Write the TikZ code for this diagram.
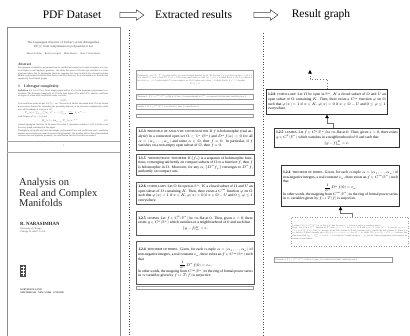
\documentclass[tikz,border=0pt]{standalone}
\usepackage{amsmath}
\usepackage{fontspec}
\usepackage{unicode-math}
\setmainfont{Liberation Serif}
\setmathfont{Latin Modern Math}
\usetikzlibrary{arrows.meta,shapes.arrows}
\definecolor{hl}{HTML}{5CC85C}
\newcommand{\pgfont}{\fontsize{2.3}{2.7}\selectfont}
\newcommand{\rawfont}{\fontsize{2.3}{2.75}\selectfont}
\newcommand{\boxfont}{\fontsize{3.7}{4.6}\selectfont}
\newcommand{\thmcap}[1]{{\fontsize{3.1}{4.6}\selectfont\MakeUppercase{#1}}}
\newcommand{\corotext}{\textbf{1.2.6}\enspace\thmcap{Corollary.} Let $\Omega$ be open in $\mathbb{R}^n$, $K$ a closed subset of $\Omega$ and $U$ an open subset of $\Omega$ containing $K$. Then, there exists a $C^\infty$ function $\varphi$ on $\Omega$ such that $\varphi(x)=1$ if $x\in K$, $\varphi(x)=0$ if $x\in\Omega-U$ and $0\le\varphi\le1$ everywhere.}
\newcommand{\lemtext}{\textbf{1.2.5}\enspace\thmcap{Lemma.} Let $f\in C^k(\mathbb{R}^n)$ be $m$-flat at $0$. Then, given $\varepsilon>0$, there exists $g\in C^k(\mathbb{R}^n)$ which vanishes in a neighbourhood of $0$ and such that\par\vspace{1.3pt}{\centering $\|g-f\|_m^K<\varepsilon$.\par}}
\newcommand{\boreltext}{\textbf{1.2.4}\enspace\thmcap{Theorem of Borel.} Given, for each $n$-tuple $\alpha=(\alpha_1,\dots,\alpha_n)$ of non-negative integers, a real constant $c_\alpha$, there exists an $f\in C^\infty(\mathbb{R}^n)$ such that\par{\centering $\dfrac{1}{\alpha!}D^\alpha f(0)=c_\alpha$.\par}In other words, the mapping from $C^\infty(\mathbb{R}^n)$ to the ring of formal power series in $n$ variables given by $f\mapsto T(f)$ is surjective.}

\begin{document}
\begin{tikzpicture}[x=1pt,y=-1pt,
  head/.style={font=\fontsize{11.5}{13}\selectfont},
  hollow/.style={single arrow,draw=black!75,line width=0.5pt,minimum height=24pt,minimum width=10pt,inner sep=2.4pt,single arrow head extend=2.6pt,single arrow tip angle=70},
  sep/.style={draw=black!70,dotted,line width=0.6pt},
  pg/.style={font=\pgfont,inner sep=0pt,text=black!75},
  raw/.style={draw=black!40,line width=0.5pt,anchor=north west,inner sep=1.2pt,text=black!60,font=\rawfont,align=justify},
  stmt/.style={draw=black!65,line width=0.9pt,anchor=north west,inner sep=1.8pt,font=\boxfont,align=justify},
  gstmt/.style={draw=black!80,line width=0.6pt,anchor=north west,inner sep=1.8pt,font=\boxfont,align=justify},
  edge/.style={draw=black!55,line width=0.7pt,-{Triangle[length=3.5pt,width=3.5pt,color=black]}}]
\useasboundingbox (0,0) rectangle (410,335);
\clip (0,0) rectangle (410,335);

\node[head] (pdfhead) at (72,15) {PDF Dataset};
\node[hollow] (arrA) at (130,15) {};
\node[head] (exthead) at (193.5,15) {Extracted results};
\node[hollow] (arrB) at (264,15) {};
\node[head] (graphhead) at (321,15) {Result graph};

\draw[sep] (129,30) -- (129,336);
\draw[sep] (263,33) -- (263,336);

\draw[black!45,line width=0.6pt] (7,27) rectangle (120,345);
\draw[black!35,line width=0.5pt] (7,141) -- (120,141) (7,152) -- (120,152);

\node[pg,align=center,font=\fontsize{3.1}{3.8}\selectfont] (ttl) at (63.5,45) {The Lagrangian character of Tucker's series distinguishes\\$\mathrm{EP}(\mathcal{G})$ from completeness to polynomial or not};
\node[pg,font=\fontsize{2.4}{3}\selectfont] (auth) at (63.5,54) {Marcus F.\ Hahn \quad Ravil Lewergard \quad Blake Heston \quad Anne C.\ Dunckmeier};
\node[pg,anchor=west,font=\bfseries\fontsize{3.5}{4}\selectfont] (abshead) at (18,64) {Abstract};
\node[pg,anchor=north west,text width=90pt,align=justify] (abstxt) at (18,67) {The question of whether a polynomial can be certified non-negative by sums of squares is a classical theme in real algebraic geometry. We study the series of Tucker type attached to a finite graph and show that its Lagrangian character separates the cases in which the extremal problem admits a polynomial certificate from those in which it does not. As a consequence we describe the complexity for all small graphs.};
\node[pg,anchor=west,font=\bfseries\fontsize{3.9}{4.5}\selectfont] (sechead) at (18,87) {1\quad Lebesgue complexity};
\node[pg,anchor=north west,text width=90pt,align=justify] (para1) at (18,89.5) {\textbf{Definition 1.1.} Let $G$ be a finite simple graph and let $P_G$ be the associated polynomial in $n$ variables. The Lebesgue complexity of $G$ is the least degree $d$ for which $P_G$ admits a certificate of degree $d$, when such a certificate exists; we write};
\node[pg] (eq1) at (63.5,101) {$\lambda(G)$};
\node[pg,anchor=north west,text width=90pt,align=justify] (para2) at (18,103) {If no certificate exists we put $\lambda(G)=\infty$. The series of Tucker associated with $G$ is the formal power series obtained by expanding the generating function of its extremal configurations, taken over all the subsets of vertices of $G$:};
\node[pg] (eq2) at (56,113) {$T_G(x)=\sum_{k\ge0}\binom{n}{k}a_k\,x^k+\cdots+\sum_{j\ge1}\frac{(-1)^j}{j!}\,b_j\,x^{2j}+\cdots$};
\node[pg,anchor=west] (para3) at (18,117) {with distance $d(x)=\|x\|$ and};
\node[pg] (eq3) at (60,121) {$E_G(x)=\lim_{m\to\infty}T_m(x)\,e^{-d(x)}$};
\node[pg] (eqno) at (106,121) {(2)};
\node[pg,anchor=north west,text width=90pt,align=justify] (para4) at (18,123.5) {whose Lagrangian character, in the sense of Section 3, determines whether $\lambda(G)$ is finite or not for every graph considered in this paper.};
\node[pg,anchor=north west,text width=90pt,align=justify] (para5) at (18,129.5) {Throughout, all graphs are finite and simple, polynomials have real coefficients and a certificate means a representation as a sum of squares of polynomials. Our notation follows that of the standard references on real algebraic geometry; we recall below the few facts that are needed.};
\node[pg] (pgno) at (63.5,146) {1};

\node[pg,anchor=north west,align=left,font=\fontsize{10.5}{10.4}\selectfont,text=black!85] (booktitle) at (19,178.5) {Analysis on\\Real and Complex\\Manifolds};
\node[pg,anchor=west,font=\bfseries\fontsize{4.8}{5}\selectfont,text=black!85] (author) at (20,224) {R. NARASIMHAN};
\node[pg,anchor=north west,align=left,font=\fontsize{2.4}{3}\selectfont] (affil) at (20,228) {University of Chicago\\Chicago, IL 60637, U.S.A.};
\fill[black!70] (20,265) rectangle (26,277);
\draw[white,line width=0.3pt] (21,267) -- (25,267) (21,270) -- (25,270) (21,273) -- (25,273) (23,266) -- (23,276);
\node[pg,anchor=north west,align=left,font=\bfseries\fontsize{2.4}{3}\selectfont] (publ) at (20,288.5) {NORTH-HOLLAND\\AMSTERDAM $\cdot$ NEW YORK $\cdot$ OXFORD};

\node[raw,text width=115pt,minimum height=19pt] (defA) at (136,70) {Definition 1. Let $\Omega\subset\mathbb{R}^n$ be open and let $f$ be a real-valued function on $\Omega$. We say that $f$ is $m$-flat at a point $a\in\Omega$ if $f$ is of class $C^m$ near $a$ and $D^\alpha f(a)=0$ for every multi-index $\alpha$ with $|\alpha|\le m$; $f$ is called flat at $a$ if it is $m$-flat at $a$ for every $m\ge0$. A polynomial $P$ is non-negative on $\Omega$ if it takes only values $\ge0$ there, that is, if {\color{hl}$x\in\Omega$} implies\par{\centering $P(x)\ge0$.\par}};
\node[raw,text width=115pt] (thmB) at (136,94) {Theorem 1. If $f\in C^\infty(\mathbb{R}^n)$ is flat at $0$, then $f$ is approximated in $C^m$ on compacts by functions vanishing near $0$.};
\node[raw,text width=115pt] (lemC) at (136,104) {Lemma 1. If $f\in C^k(\mathbb{R}^n)$ is $m$-flat at $0$, then $f$ is small near $0$.};
\node[raw,text width=115pt,align=center] (dotsD) at (136,114) {\dots};

\node[stmt,text width=114.5pt,minimum height=23pt] (anacont) at (136,127) {\textbf{1.1.3}\enspace\thmcap{Principle of analytic continuation.} If $f$ is holomorphic (real analytic) in a connected open set $\Omega\subset\mathbb{C}^n$ ($\mathbb{R}^n$) and $D^\alpha f(a)=0$ for all $\alpha=(\alpha_1,\dots,\alpha_n)$ and some $a\in\Omega$, then $f\equiv0$. In particular, if $f$ vanishes on a non-empty open subset of $\Omega$, then $f\equiv0$.};
\node[stmt,text width=114.5pt,minimum height=20pt] (weier) at (136,154) {\textbf{1.1.5}\enspace\thmcap{`Weierstrass' theorem.} If $\{f_\nu\}$ is a sequence of holomorphic functions, converging uniformly on compact subsets of $\Omega$ to a function $f$, then $f$ is holomorphic in $\Omega$. Moreover, for any $\alpha$, $\{D^\alpha f_\nu\}$ converges to $D^\alpha f$, uniformly on compact sets.};
\node[stmt,text width=114.5pt,minimum height=22pt] (coro) at (136,182) {\corotext};
\node[stmt,text width=114.5pt,minimum height=24pt] (lem) at (136,211) {\lemtext};
\node[stmt,text width=114.5pt,minimum height=43pt] (borel) at (136,241) {\boreltext};
\node[raw,text width=115pt,align=center] (dotsJ) at (136,286) {\dots};

\node[gstmt,text width=117.8pt,minimum height=25pt] (gcor) at (266,89) {\corotext};
\node[gstmt,text width=121.8pt,minimum height=19pt] (glem) at (274,128) {\lemtext};
\node[gstmt,text width=114.8pt,minimum height=41pt] (gborel) at (281,165) {\boreltext};
\node[raw,dotted,text width=115pt,minimum height=29pt,font=\fontsize{2.2}{2.6}\selectfont] (rawlem) at (291,217) {Lemma 4. If $f\in C^k(\mathbb{R}^n)$ is $m$-flat at $0$, then for every $\varepsilon>0$ there is such a $g$ vanishing near $0$.\par Proof. Let $\chi$ be a $C^\infty$ function on $\mathbb{R}^n$ with {\color{hl}$\chi(x)=1$} for $|x|\le1/2$ and $\chi(x)=0$ for $|x|\ge1$, and put $g_\delta(x)=(1-\chi(x/\delta))f(x)$. Then $g_\delta$ vanishes in the ball of radius $\delta/2$ and coincides with $f$ outside the ball of radius $\delta$. Since $f$ is $m$-flat at $0$, Taylor's formula gives $|D^\beta f(x)|=o(|x|^{m-|\beta|})$ for $|\beta|\le m$, while $|D^\gamma\chi(x/\delta)|\le C\delta^{-|\gamma|}$. Leibniz's rule then shows that $\|g_\delta-f\|_m^K\to0$ as $\delta\to0$, so that for $\delta$ small enough $g=g_\delta$ has the required properties, which proves the lemma as stated above.};
\node[raw,text width=116pt] (rawthm) at (274,257) {Theorem 4. If $f\in C^\infty(\mathbb{R}^n)$ is flat at $0$, then $f$ is a limit of functions vanishing near $0$.};

\draw[edge] ([xshift=-4pt]glem.north) -- ++(0pt,5pt) -| (gcor.south);
\draw[edge] ([xshift=2pt]rawlem.north) -- ++(0pt,4pt) -| (gborel.south);
\coordinate (onward) at (310,70);
\draw[edge,dotted] (gcor.north) -- ++(0pt,10pt) -| (onward);
\end{tikzpicture}
\end{document}
